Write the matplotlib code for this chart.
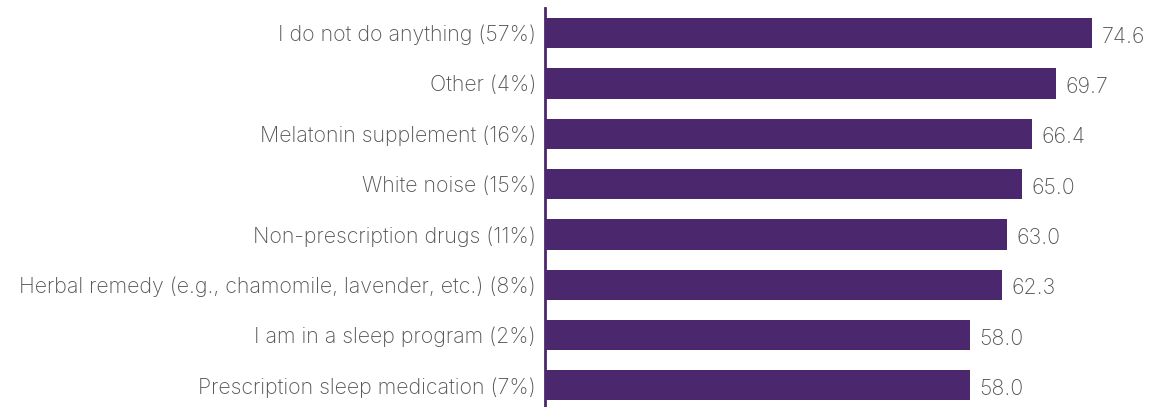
import matplotlib
matplotlib.use("Agg")
import matplotlib.pyplot as plt

categories = [
    "I do not do anything (57%)",
    "Other (4%)",
    "Melatonin supplement (16%)",
    "White noise (15%)",
    "Non-prescription drugs (11%)",
    "Herbal remedy (e.g., chamomile, lavender, etc.) (8%)",
    "I am in a sleep program (2%)",
    "Prescription sleep medication (7%)",
]
scores = [74.6, 69.7, 66.4, 65.0, 63.0, 62.3, 58.0, 58.0]

BAR_COLOR = "#4b286d"
TEXT_COLOR = "#555555"
FONT = "Inter"
FSIZE = 15.4

W, H = 1163, 407
fig = plt.figure(figsize=(W / 100, H / 100), dpi=100)
ax = fig.add_axes([545 / W, 0, 1 - 545 / W, 1 - 8 / H])

ypos = list(range(len(categories)))
ax.barh(ypos, scores, height=0.6, color=BAR_COLOR)
ax.set_xlim(0, 84.3)
ax.set_ylim(7.43, -0.5)

for y, v in zip(ypos, scores):
    ax.text(v + 1.3, y + 0.07, f"{v:.1f}", va="center", ha="left",
            fontsize=FSIZE, color=TEXT_COLOR, family=FONT, fontweight="light")

ax.set_yticks(ypos)
ax.set_yticklabels(categories, fontsize=FSIZE, color=TEXT_COLOR, family=FONT,
                   fontweight="light")
ax.tick_params(axis="y", length=0, pad=6.5)
ax.set_xticks([])

for side in ("top", "right", "bottom"):
    ax.spines[side].set_visible(False)
ax.spines["left"].set_color(BAR_COLOR)
ax.spines["left"].set_linewidth(2)

fig.savefig("out.png", dpi=100)
